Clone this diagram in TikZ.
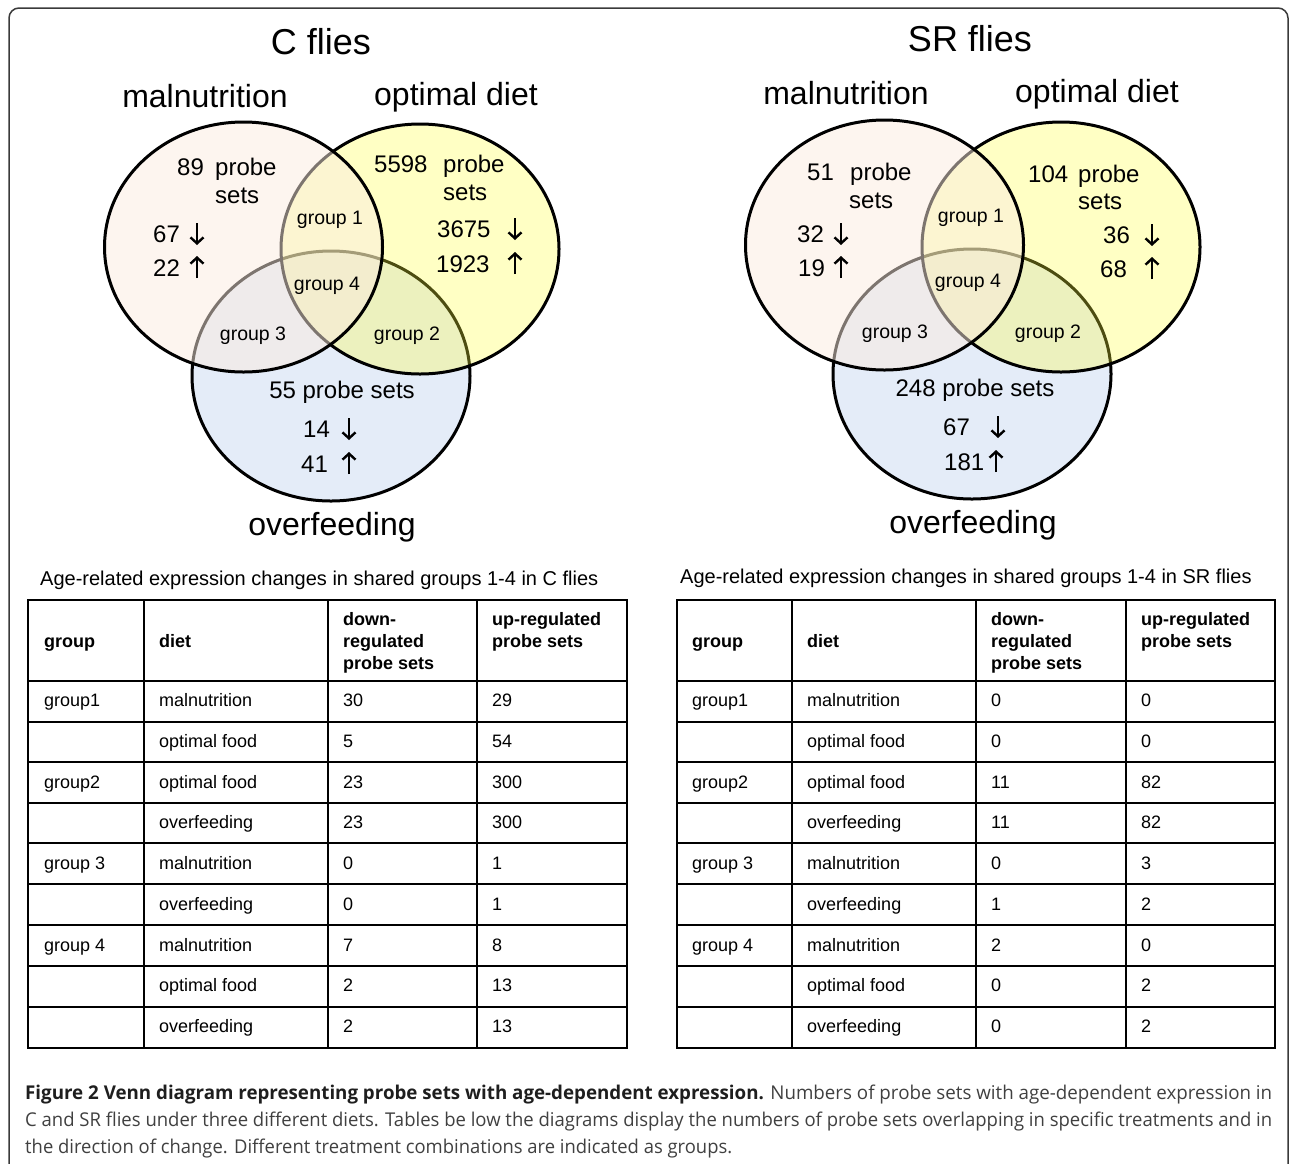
\documentclass[tikz,border=0pt]{standalone}
\usepackage{fontspec}
\setmainfont{Liberation Sans}
\newfontfamily\capfont{Open Sans}
\usepackage{graphicx}
\usetikzlibrary{arrows.meta}

\definecolor{malfill}{rgb}{0.984,0.922,0.874}
\definecolor{optfill}{rgb}{1,1,0.23}
\definecolor{overfill}{rgb}{0.894,0.925,0.973}
\definecolor{framegrey}{HTML}{3A3A3A}
\definecolor{capgrey}{HTML}{404040}
\definecolor{capdark}{HTML}{1E1E1E}

\tikzset{
  venn/.style={line width=3pt},
  bigtitle/.style={font=\fontsize{36}{40}\selectfont, anchor=base, inner sep=0pt},
  setname/.style={font=\fontsize{32}{36}\selectfont, anchor=base, inner sep=0pt},
  count/.style={font=\fontsize{24}{28}\selectfont, anchor=base west, inner sep=0pt},
  updown/.style={line width=2.4pt, -{Straight Barb[length=6pt,width=13pt]}},
  grouplbl/.style={font=\fontsize{19.5}{22}\selectfont, anchor=base, inner sep=0pt},
  tabtitle/.style={font=\fontsize{20}{24}\selectfont, anchor=base west, inner sep=0pt},
  cell/.style={font=\fontsize{18}{21.5}\selectfont, anchor=base west, inner sep=0pt},
  headcell/.style={font=\bfseries\fontsize{18}{21.5}\selectfont, anchor=base west, inner sep=0pt},
  tabline/.style={line width=2pt, line cap=rect},
  capline/.style={font=\capfont\fontsize{19}{27}\selectfont, anchor=base west, inner sep=0pt, text=capgrey}
}
% arrow marks next to the counts: x, baseline
\newcommand\arrdn[2]{\draw[updown] (#1,{#2-19}) -- (#1,{#2+3});}
\newcommand\arrup[2]{\draw[updown] (#1,{#2+2}) -- (#1,{#2-20});}

\begin{document}
\begin{tikzpicture}[x=1pt,y=-1pt]
\useasboundingbox (0,0) rectangle (1290,1163);
\draw[framegrey, line width=1.5pt, rounded corners=10pt] (9,8) rectangle (1288,1200);

% C flies venn
\filldraw[venn, fill=overfill] (331,376) ellipse [x radius=139pt, y radius=125pt];
\filldraw[venn, fill=optfill, fill opacity=0.3] (420,249) ellipse [x radius=139pt, y radius=125pt];
\filldraw[venn, fill=malfill, fill opacity=0.5] (243.5,247) ellipse [x radius=139pt, y radius=125pt];

\node[bigtitle] (ctitle) at (321,54) {C flies};
\node[setname] (cmal) at (205,107) {malnutrition};
\node[setname] (copt) at (456,105) {optimal diet};
\node[setname] (cover) at (332,535) {overfeeding};

\node[count] (cmaln) at (177,175) {89};
\node[count] (cmalp) at (215,175) {probe};
\node[count] (cmals) at (215,203) {sets};
\node[count] (cmald) at (153,242) {67};
\arrdn{197}{242}
\node[count] (cmalu) at (153,276) {22};
\arrup{197}{276}

\node[count] (coptn) at (374,172) {5598};
\node[count] (coptp) at (443,172) {probe};
\node[count] (copts) at (443,200) {sets};
\node[count] (coptd) at (437,237) {3675};
\arrdn{515}{237}
\node[count] (coptu) at (436,272) {1923};
\arrup{515}{272}

\node[count, anchor=base] (covern) at (342,398) {55 probe sets};
\node[count] (coverd) at (303,437) {14};
\arrdn{349}{437}
\node[count] (coveru) at (301,472) {41};
\arrup{349}{472}

\node[grouplbl] (cg1) at (330,224) {group 1};
\node[grouplbl] (cg4) at (327,290) {group 4};
\node[grouplbl] (cg3) at (253,340) {group 3};
\node[grouplbl] (cg2) at (407,340) {group 2};

% SR flies venn
\filldraw[venn, fill=overfill] (972,374) ellipse [x radius=139pt, y radius=125pt];
\filldraw[venn, fill=optfill, fill opacity=0.3] (1061,247) ellipse [x radius=139pt, y radius=125pt];
\filldraw[venn, fill=malfill, fill opacity=0.5] (884.5,245) ellipse [x radius=139pt, y radius=125pt];

\node[bigtitle] (srtitle) at (970,51) {SR flies};
\node[setname] (srmal) at (846,104) {malnutrition};
\node[setname] (sropt) at (1097,102) {optimal diet};
\node[setname] (srover) at (973,533) {overfeeding};

\node[count] (srmaln) at (807,180) {51};
\node[count] (srmalp) at (850,180) {probe};
\node[count] (srmals) at (849,208) {sets};
\node[count] (srmald) at (797,242) {32};
\arrdn{841}{242}
\node[count] (srmalu) at (798,276) {19};
\arrup{841}{276}

\node[count] (sroptn) at (1028,182) {104};
\node[count] (sroptp) at (1078,182) {probe};
\node[count] (sropts) at (1078,209) {sets};
\node[count] (sroptd) at (1103,243) {36};
\arrdn{1152}{243}
\node[count] (sroptu) at (1100,277) {68};
\arrup{1152}{277}

\node[count, anchor=base] (srovern) at (975,396) {248 probe sets};
\node[count] (sroverd) at (943,435) {67};
\arrdn{998}{435}
\node[count] (sroveru) at (944,470) {181};
\arrup{996}{470}

\node[grouplbl] (srg1) at (971,222) {group 1};
\node[grouplbl] (srg4) at (968,287) {group 4};
\node[grouplbl] (srg3) at (895,338) {group 3};
\node[grouplbl] (srg2) at (1048,338) {group 2};

% C flies table
\node[tabtitle] (ctab) at (40,585) {Age-related expression changes in shared groups 1-4 in C flies};
\foreach \y in {600,681,722,762,803,843,884,925,966,1007,1048}
  \draw[tabline] (28,\y) -- (627,\y);
\foreach \x in {28,144,328,477,627}
  \draw[tabline] (\x,600) -- (\x,1048);
\node[headcell] (chg) at (44,647) {group};
\node[headcell] (chd) at (159,647) {diet};
\node[headcell] (chdn1) at (343,625) {down-};
\node[headcell] (chdn2) at (343,647) {regulated};
\node[headcell] (chdn3) at (343,669) {probe sets};
\node[headcell] (chup1) at (492,625) {up-regulated};
\node[headcell] (chup2) at (492,647) {probe sets};
\foreach \g/\d/\dn/\up [count=\i] in {group1/malnutrition/30/29, /optimal food/5/54,
    group2/optimal food/23/300, /overfeeding/23/300, group 3/malnutrition/0/1,
    /overfeeding/0/1, group 4/malnutrition/7/8, /optimal food/2/13, /overfeeding/2/13}{
  \node[cell] (cg\i) at (44,{681+40.78*(\i-1)+25.5}) {\g};
  \node[cell] (cd\i) at (159,{681+40.78*(\i-1)+25.5}) {\d};
  \node[cell] (cdn\i) at (343,{681+40.78*(\i-1)+25.5}) {\dn};
  \node[cell] (cup\i) at (492,{681+40.78*(\i-1)+25.5}) {\up};
}

% SR flies table
\node[tabtitle] (srtab) at (680,583) {Age-related expression changes in shared groups 1-4 in SR flies};
\foreach \y in {600,681,722,762,803,843,884,925,966,1007,1048}
  \draw[tabline] (677,\y) -- (1275,\y);
\foreach \x in {677,792,976,1126,1275}
  \draw[tabline] (\x,600) -- (\x,1048);
\node[headcell] (srhg) at (692,647) {group};
\node[headcell] (srhd) at (807,647) {diet};
\node[headcell] (srhdn1) at (991,625) {down-};
\node[headcell] (srhdn2) at (991,647) {regulated};
\node[headcell] (srhdn3) at (991,669) {probe sets};
\node[headcell] (srhup1) at (1141,625) {up-regulated};
\node[headcell] (srhup2) at (1141,647) {probe sets};
\foreach \g/\d/\dn/\up [count=\i] in {group1/malnutrition/0/0, /optimal food/0/0,
    group2/optimal food/11/82, /overfeeding/11/82, group 3/malnutrition/0/3,
    /overfeeding/1/2, group 4/malnutrition/2/0, /optimal food/0/2, /overfeeding/0/2}{
  \node[cell] (srg\i) at (692,{681+40.78*(\i-1)+25.5}) {\g};
  \node[cell] (srd\i) at (807,{681+40.78*(\i-1)+25.5}) {\d};
  \node[cell] (srdn\i) at (991,{681+40.78*(\i-1)+25.5}) {\dn};
  \node[cell] (srup\i) at (1141,{681+40.78*(\i-1)+25.5}) {\up};
}

% caption
\node[capline] (cap1) at (25,1099) {\resizebox{1247pt}{\height}{\textcolor{capdark}{\bfseries Figure 2 Venn diagram representing probe sets with age-dependent expression.} Numbers of probe sets with age-dependent expression in}};
\node[capline] (cap2) at (25,1126) {\resizebox{1247pt}{\height}{C and SR flies under three different diets. Tables be low the diagrams display the numbers of probe sets overlapping in specific treatments and in}};
\node[capline] (cap3) at (25,1153) {\resizebox{707pt}{\height}{the direction of change. Different treatment combinations are indicated as groups.}};
\end{tikzpicture}
\end{document}
